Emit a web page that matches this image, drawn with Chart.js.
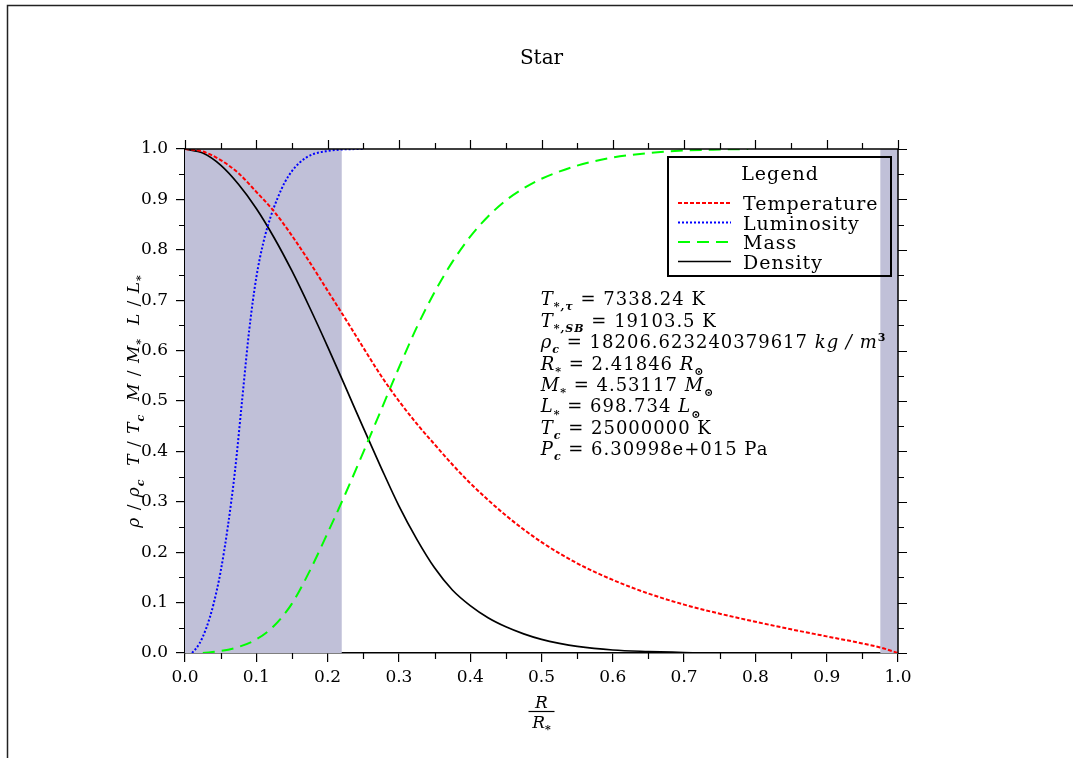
<!DOCTYPE html>
<html>
<head>
<meta charset="utf-8">
<script src="https://cdn.jsdelivr.net/npm/chart.js@4/dist/chart.umd.min.js"></script>
<style>
html,body{margin:0;padding:0;background:#fff;overflow:hidden}
#wrap{width:1073px;height:758px;position:relative}
</style>
</head>
<body>
<div id="wrap"><canvas id="c" width="1073" height="758"></canvas></div>
<script>
// ---------- data ----------
const chartTitle = 'Star';
const seriesNames = ['Temperature', 'Luminosity', 'Mass', 'Density'];
const legendTitle = 'Legend';

const tempR = [0.0,0.025,0.05,0.075,0.1,0.125,0.15,0.175,0.2,0.225,0.25,0.275,0.3,0.325,0.35,0.375,0.4,0.45,0.5,0.55,0.6,0.65,0.7,0.75,0.8,0.85,0.9,0.95,0.975,1.0];
const tempV = [1.0,0.995,0.978,0.952,0.915,0.876,0.828,0.775,0.719,0.663,0.606,0.550,0.500,0.455,0.414,0.374,0.337,0.273,0.220,0.178,0.145,0.118,0.096,0.078,0.062,0.047,0.033,0.019,0.011,0.0];

const lumR = [0.01,0.02,0.03,0.04,0.05,0.06,0.07,0.08,0.09,0.1,0.11,0.12,0.13,0.14,0.15,0.16,0.17,0.18,0.2,0.22,0.25];
const lumV = [0.0,0.018,0.050,0.097,0.162,0.250,0.360,0.500,0.640,0.745,0.815,0.865,0.903,0.934,0.956,0.972,0.983,0.990,0.996,0.999,1.0];

const massR = [0.025,0.05,0.075,0.1,0.125,0.15,0.175,0.2,0.225,0.25,0.275,0.3,0.325,0.35,0.375,0.4,0.425,0.45,0.475,0.5,0.55,0.6,0.65,0.7,0.75,0.79];
const massV = [0.0,0.004,0.012,0.027,0.054,0.098,0.163,0.238,0.316,0.398,0.482,0.566,0.646,0.716,0.776,0.826,0.866,0.898,0.922,0.941,0.967,0.983,0.992,0.997,0.999,1.0];

const densR = [0.0,0.025,0.05,0.075,0.1,0.125,0.15,0.175,0.2,0.225,0.25,0.275,0.3,0.325,0.35,0.375,0.4,0.425,0.45,0.475,0.5,0.525,0.55,0.6,0.65,0.7,0.725];
const densV = [1.0,0.992,0.968,0.930,0.882,0.824,0.758,0.685,0.608,0.528,0.447,0.368,0.292,0.226,0.169,0.125,0.094,0.070,0.052,0.038,0.027,0.019,0.013,0.006,0.003,0.001,0.0];

// shaded radial bands (x from / x to)
const bandStart = [0.0, 0.975];
const bandEnd = [0.22, 1.0];

const xTickStep = 0.1;
const yTickStep = 0.1;

// info text lines: [text, style]
const infoLines = [
  [['T','it'],['*,τ','sub'],[' = 7338.24 K','rm']],
  [['T','it'],['*,SB','sub'],[' = 19103.5 K','rm']],
  [['ρ','it'],['c','sub'],[' = 18206.623240379617 ','rm'],['kg / m','it'],['3','sup']],
  [['R','it'],['*','sub'],[' = 2.41846 ','rm'],['R','it'],['⊙','sub']],
  [['M','it'],['*','sub'],[' = 4.53117 ','rm'],['M','it'],['⊙','sub']],
  [['L','it'],['*','sub'],[' = 698.734 ','rm'],['L','it'],['⊙','sub']],
  [['T','it'],['c','sub'],[' = 25000000 K','rm']],
  [['P','it'],['c','sub'],[' = 6.30998e+015 Pa','rm']]
];
const yTitle = [['ρ','it'],[' / ','rm'],['ρ','it'],['c','sub'],['  ','rm'],
  ['T','it'],[' / ','rm'],['T','it'],['c','sub'],['  ','rm'],
  ['M','it'],[' / ','rm'],['M','it'],['*','sub'],['  ','rm'],
  ['L','it'],[' / ','rm'],['L','it'],['*','sub']];
const xTitleTop = [['R','it']];
const xTitleBottom = [['R','it'],['*','sub']];

// ---------- helpers ----------
const FAM = '"DejaVu Serif", "Liberation Serif", serif';
function segFont(st, size) {
  if (st === 'it') return `italic ${size}px ${FAM}`;
  if (st === 'sub') return `italic bold ${Math.round(size * 0.62)}px ${FAM}`;
  if (st === 'sup') return `bold ${Math.round(size * 0.62)}px ${FAM}`;
  return `${size}px ${FAM}`;
}
function segDy(st, size) {
  if (st === 'sub') return size * 0.28;
  if (st === 'sup') return -size * 0.42;
  return 0;
}
function richWidth(ctx, segs, size) {
  let w = 0;
  for (const [t, st] of segs) { ctx.font = segFont(st, size); w += ctx.measureText(t).width; }
  return w;
}
function drawRich(ctx, segs, x, y, size, align, spacing) {
  ctx.save();
  try { ctx.letterSpacing = (spacing || 0) + 'px'; } catch (e) {}
  ctx.textBaseline = 'alphabetic';
  ctx.textAlign = 'left';
  ctx.fillStyle = '#000';
  const w = richWidth(ctx, segs, size);
  let cx = align === 'center' ? x - w / 2 : x;
  for (const [t, st] of segs) {
    ctx.font = segFont(st, size);
    ctx.fillText(t, cx, y + segDy(st, size));
    cx += ctx.measureText(t).width;
  }
  ctx.restore();
}
function pts(xs, ys) { return xs.map((x, i) => ({ x: x, y: ys[i] })); }

// ---------- datasets ----------
const bandDatasets = bandStart.map((s, i) => ({
  label: 'band' + i,
  data: [{ x: s, y: 1 }, { x: bandEnd[i], y: 1 }],
  fill: 'origin',
  backgroundColor: 'rgb(192,192,216)',
  borderWidth: 0,
  pointRadius: 0,
  order: 10
}));
const lineDatasets = [
  { label: seriesNames[0], data: pts(tempR, tempV), borderColor: '#ff0000', borderWidth: 2, borderDash: [4, 2] },
  { label: seriesNames[1], data: pts(lumR, lumV), borderColor: '#0000ff', borderWidth: 2, borderDash: [2, 2] },
  { label: seriesNames[2], data: pts(massR, massV), borderColor: '#00ff00', borderWidth: 2, borderDash: [12, 7] },
  { label: seriesNames[3], data: pts(densR, densV), borderColor: '#000000', borderWidth: 1.7, borderDash: [] }
].map(d => Object.assign(d, { fill: false, pointRadius: 0, cubicInterpolationMode: 'monotone', order: 1 }));

// ---------- plugins ----------
const pageFrame = {
  id: 'pageFrame',
  beforeDraw(chart) {
    const ctx = chart.ctx;
    ctx.save();
    ctx.fillStyle = '#fff';
    ctx.fillRect(0, 0, chart.width, chart.height);
    ctx.strokeStyle = '#222';
    ctx.lineWidth = 1.5;
    ctx.beginPath();
    ctx.moveTo(7.5, chart.height);
    ctx.lineTo(7.5, 5.5);
    ctx.lineTo(chart.width, 5.5);
    ctx.stroke();
    ctx.restore();
  }
};

const axesExtras = {
  id: 'axesExtras',
  afterDraw(chart) {
    const ctx = chart.ctx, ca = chart.chartArea;
    const xs = chart.scales.x, ys = chart.scales.y;
    ctx.save();
    ctx.strokeStyle = '#000';
    ctx.lineWidth = 1.5;
    ctx.beginPath();
    ctx.moveTo(ca.left, ca.top); ctx.lineTo(ca.right, ca.top); ctx.lineTo(ca.right, ca.bottom);
    ctx.stroke();
    ctx.lineWidth = 1.2;
    ctx.beginPath();
    for (let i = 0; i <= 20; i++) {
      const v = i * xTickStep / 2;
      const px = Math.round(xs.getPixelForValue(v)) + 0.5;
      const major = i % 2 === 0;
      const len = major ? 9 : 6;
      if (!major) { ctx.moveTo(px, ca.bottom); ctx.lineTo(px, ca.bottom + len); }
      ctx.moveTo(px, ca.top); ctx.lineTo(px, ca.top - len);
    }
    for (let i = 0; i <= 20; i++) {
      const v = i * yTickStep / 2;
      const py = Math.round(ys.getPixelForValue(v)) + 0.5;
      const major = i % 2 === 0;
      const len = major ? 9 : 6;
      if (!major) { ctx.moveTo(ca.left, py); ctx.lineTo(ca.left - len, py); }
      ctx.moveTo(ca.right, py); ctx.lineTo(ca.right + len, py);
    }
    ctx.stroke();
    ctx.restore();
  }
};

const annotations = {
  id: 'annotations',
  afterDraw(chart) {
    const ctx = chart.ctx, ca = chart.chartArea;
    const xs = chart.scales.x, ys = chart.scales.y;
    // info block
    const ix = xs.getPixelForValue(0.499);
    const by = ys.getPixelForValue(0.69);
    infoLines.forEach((segs, i) => drawRich(ctx, segs, ix, by + i * 21.45, 18, 'left', 1));

    // legend box
    const bx = ca.right - 230, byy = ca.top + 8, bw = 223, bh = 119;
    ctx.save();
    ctx.strokeStyle = '#000';
    ctx.lineWidth = 2;
    ctx.strokeRect(bx, byy, bw, bh);
    ctx.fillStyle = '#000';
    try { ctx.letterSpacing = '1px'; } catch (e) {}
    ctx.font = `19px ${FAM}`;
    ctx.textBaseline = 'alphabetic';
    ctx.textAlign = 'center';
    ctx.fillText(legendTitle, bx + 112, byy + 23);
    ctx.textAlign = 'left';
    lineDatasets.forEach((d, i) => {
      const yy = byy + 46 + i * 19.5;
      ctx.save();
      ctx.strokeStyle = d.borderColor;
      ctx.lineWidth = d.borderWidth;
      ctx.setLineDash(d.borderDash || []);
      ctx.beginPath();
      ctx.moveTo(bx + 10, yy); ctx.lineTo(bx + 63, yy);
      ctx.stroke();
      ctx.restore();
      ctx.fillText(d.label, bx + 75, yy + 7);
    });
    ctx.restore();

    // y axis title (rotated)
    ctx.save();
    ctx.translate(ca.left - 52, (ca.top + ca.bottom) / 2);
    ctx.rotate(-Math.PI / 2);
    drawRich(ctx, yTitle, 0, 6, 17, 'center', 1);
    ctx.restore();

    // x axis title (fraction)
    const cx = (ca.left + ca.right) / 2;
    drawRich(ctx, xTitleTop, cx, ca.bottom + 55, 17, 'center', 0);
    ctx.save();
    ctx.strokeStyle = '#000';
    ctx.lineWidth = 1.2;
    ctx.beginPath();
    ctx.moveTo(cx - 13, ca.bottom + 58.5); ctx.lineTo(cx + 13, ca.bottom + 58.5);
    ctx.stroke();
    ctx.restore();
    drawRich(ctx, xTitleBottom, cx, ca.bottom + 75, 17, 'center', 0);
  }
};

// ---------- chart ----------
const tickFont = { family: 'DejaVu Serif', size: 17 };
new Chart(document.getElementById('c'), {
  type: 'line',
  data: { datasets: bandDatasets.concat(lineDatasets) },
  options: {
    responsive: false,
    animation: false,
    events: [],
    layout: { padding: { left: 10, right: 0, top: 0, bottom: 0 } },
    plugins: {
      legend: { display: false },
      tooltip: { enabled: false },
      title: {
        display: true,
        text: chartTitle,
        color: '#000',
        font: { family: 'DejaVu Serif', size: 20, weight: 'normal', lineHeight: 1.2 },
        padding: { top: 47, bottom: 78 }
      }
    },
    scales: {
      x: {
        type: 'linear', position: 'bottom', min: 0, max: 1,
        ticks: { stepSize: xTickStep, color: '#000', font: tickFont, padding: 5, maxRotation: 0, autoSkip: false,
          callback: v => Number(v).toFixed(1) },
        grid: { drawOnChartArea: false, drawTicks: true, tickLength: 9, color: '#000', lineWidth: 1.2 },
        border: { display: true, color: '#000', width: 1.5 },
        afterFit: s => { s.height = 105; }
      },
      y: {
        type: 'linear', position: 'left', min: 0, max: 1,
        ticks: { stepSize: yTickStep, color: '#000', font: tickFont, padding: 8,
          callback: v => Number(v).toFixed(1) },
        grid: { drawOnChartArea: false, drawTicks: true, tickLength: 9, color: '#000', lineWidth: 1.2 },
        border: { display: true, color: '#000', width: 1.5 },
        afterFit: s => { s.width = 175; }
      },
      y2: {
        type: 'linear', position: 'right', min: 0, max: 1, display: true,
        ticks: { display: false },
        grid: { display: false },
        border: { display: false },
        afterFit: s => { s.width = 175; }
      }
    }
  },
  plugins: [pageFrame, axesExtras, annotations]
});
</script>
</body>
</html>
